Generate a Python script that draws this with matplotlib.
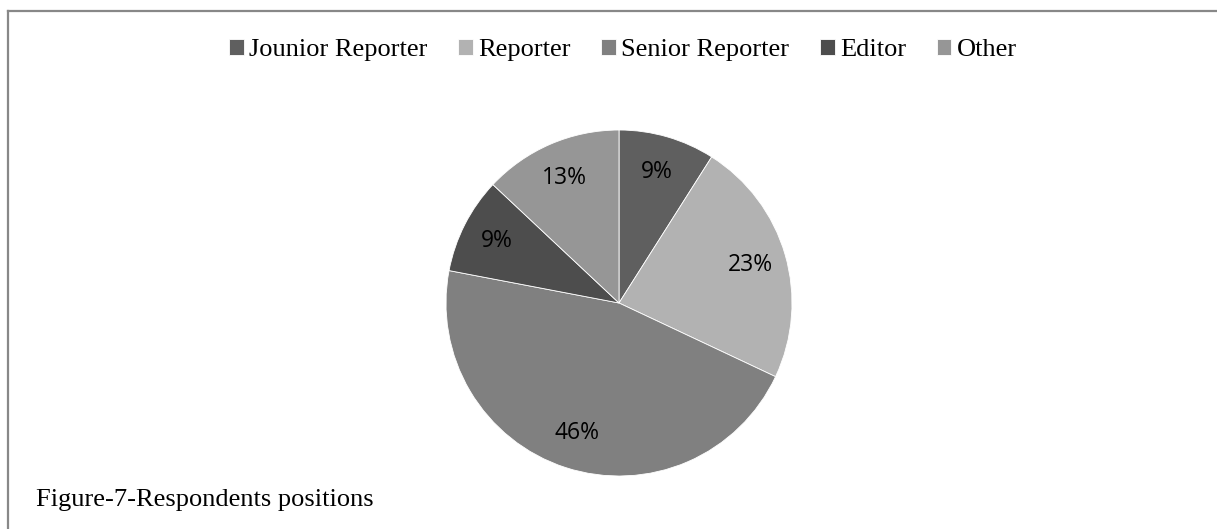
import matplotlib
matplotlib.use("Agg")
import matplotlib.pyplot as plt
from matplotlib.lines import Line2D

# respondents by position (percent)
positions = ["Jounior Reporter", "Reporter", "Senior Reporter", "Editor", "Other"]
shares = [9, 23, 46, 9, 13]
greys = ["#5f5f5f", "#b2b2b2", "#808080", "#4d4d4d", "#969696"]

W, H = 1217, 529
fig = plt.figure(figsize=(W / 100, H / 100), dpi=100)

# chart frame: only top and left edges show
fig.add_artist(Line2D([7.5 / W, 1.0], [1 - 10.5 / H] * 2, color="#888888", lw=1.6))
fig.add_artist(Line2D([7.5 / W] * 2, [0.0, 1 - 10.5 / H], color="#888888", lw=1.6))

# pie centre ~ (619, 303), radius ~ 173 px
r = 173
cx, cy = 619, 303
ax = fig.add_axes([(cx - r) / W, 1 - (cy + r) / H, 2 * r / W, 2 * r / H])
wedges, texts = ax.pie(shares, colors=greys, startangle=90, counterclock=False,
                       labels=[f"{v}%" for v in shares], labeldistance=0.79,
                       wedgeprops=dict(edgecolor="white", linewidth=0.6),
                       textprops=dict(fontsize=16.5, family="Open Sans", color="black"))
for t in texts:
    t.set_ha("center")
    t.set_va("center")
ax.set_xlim(-1, 1)
ax.set_ylim(-1, 1)
ax.set_aspect("equal")
ax.axis("off")

fig.legend(wedges, positions, loc="center", bbox_to_anchor=(623 / W, 1 - 50 / H),
           ncol=5, frameon=False, handlelength=0.55, handleheight=0.55,
           handletextpad=0.2, columnspacing=1.17, borderpad=0, borderaxespad=0,
           prop=dict(family="Liberation Serif", size=19))

fig.text(36 / W, 1 - 500 / H, "Figure-7-Respondents positions",
         family="Liberation Serif", fontsize=19, va="center", ha="left")

fig.savefig("out.png", dpi=100, facecolor="white")
